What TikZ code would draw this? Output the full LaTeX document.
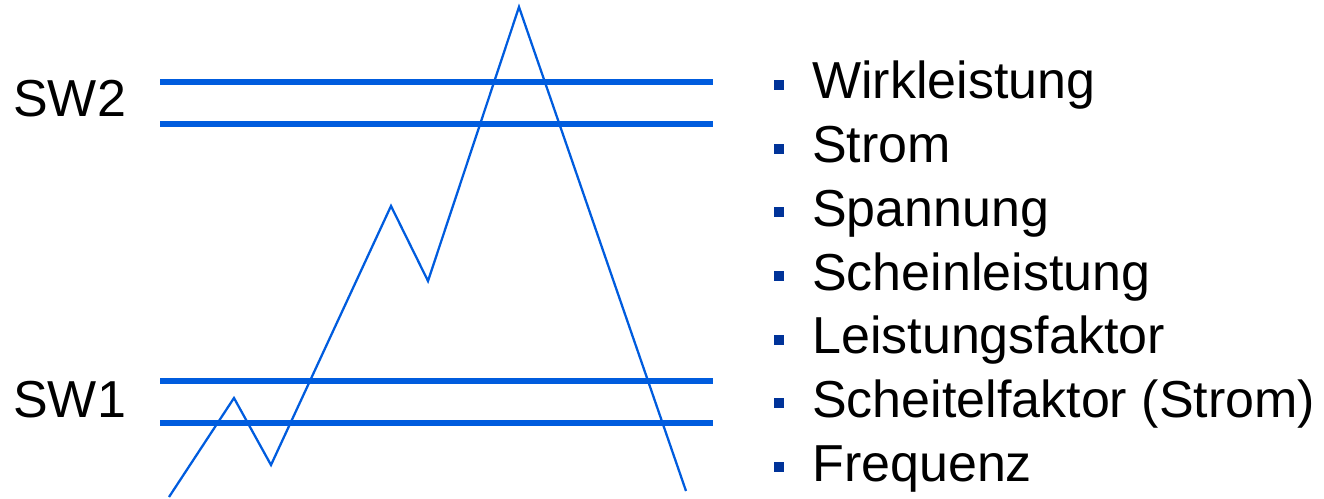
\documentclass[tikz,border=0pt]{standalone}
\usepackage{fontspec}
\setmainfont{Liberation Sans}
\definecolor{lineblue}{RGB}{0,92,222}
\definecolor{bulletblue}{RGB}{0,51,153}
\begin{document}
\begin{tikzpicture}[x=0.75pt,y=-0.75pt,
  thr/.style={draw=lineblue,line width=5pt},
  curve/.style={draw=lineblue,line width=1.7pt,line join=miter},
  lbl/.style={anchor=base west,inner sep=0pt,font=\fontsize{39}{46}\selectfont},
  bul/.style={fill=bulletblue,minimum size=7.5pt,inner sep=0pt,anchor=center}]
\useasboundingbox (0,0) rectangle (1324,499);
% threshold lines
\coordinate (a1) at (160,82);  \coordinate (a2) at (713,82);
\coordinate (b1) at (160,124); \coordinate (b2) at (713,124);
\coordinate (c1) at (160,381); \coordinate (c2) at (713,381);
\coordinate (d1) at (160,423); \coordinate (d2) at (713,423);
\draw[thr] (a1) -- (a2);
\draw[thr] (b1) -- (b2);
\draw[thr] (c1) -- (c2);
\draw[thr] (d1) -- (d2);
% labels
\node[lbl] (sw2) at (13,117) {SW2};
\node[lbl] (sw1) at (13,417) {SW1};
% signal
\coordinate (p0) at (169,497);
\coordinate (p1) at (234,398);
\coordinate (p2) at (271,465);
\coordinate (p3) at (391,206);
\coordinate (p4) at (428,281);
\coordinate (p5) at (519,7);
\coordinate (p6) at (686,491);
\draw[curve] (p0) -- (p1) -- (p2) -- (p3) -- (p4) -- (p5) -- (p6);
% list
\foreach \t [count=\i from 0] in {Wirkleistung,Strom,Spannung,Scheinleistung,Leistungsfaktor,Scheitelfaktor (Strom),Frequenz}{
  \pgfmathsetmacro{\yb}{99+\i*63.67}
  \node[bul] (b\i) at (778.5,\yb-14) {};
  \node[lbl] (t\i) at (812,\yb) {\t};
}
\end{tikzpicture}
\end{document}
